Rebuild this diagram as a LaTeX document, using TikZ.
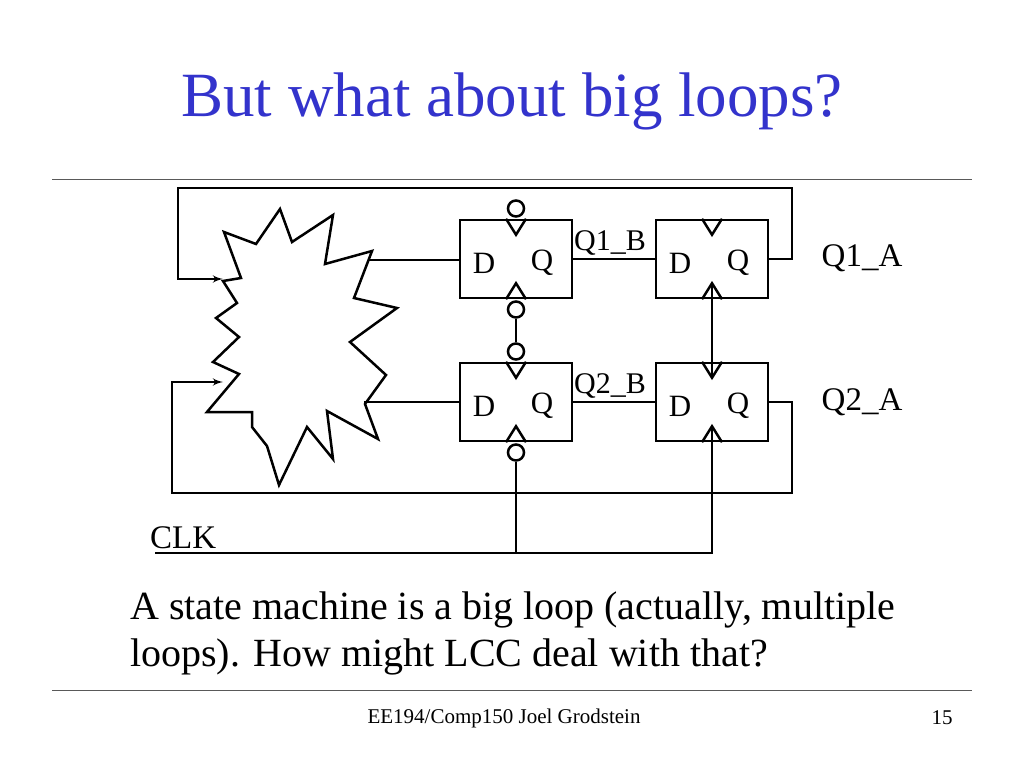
\documentclass[tikz,border=0pt]{standalone}
\usepackage{fontspec}
\setmainfont{Liberation Serif}
\usetikzlibrary{arrows, positioning}
\definecolor{titleblue}{RGB}{51,51,204}

\begin{document}
\begin{tikzpicture}[
    x=1pt, y=-1pt,
    ff/.style={rectangle, draw, line width=2.5pt, minimum width=112pt, minimum height=78pt, inner sep=0pt},
    pin/.style={font=\fontsize{31}{33}\selectfont, inner sep=0pt},
    lab/.style={font=\fontsize{33}{35}\selectfont, inner sep=0pt},
    wire/.style={draw, line width=2.5pt},
    line/.style={draw, line width=2.5pt, -latex'},
    bubble/.style={circle, draw, line width=2.5pt, minimum width=12pt, minimum height=16pt, inner sep=0pt},
    tri/.style={draw, line width=2.5pt}
]
    \useasboundingbox (0,0) rectangle (1024,768);

    % Title and rules
    \node [font=\fontsize{63}{66}\selectfont, text=titleblue] (title) at (512,101) {But what about big loops?};
    \draw [gray!70!black, line width=1pt] (52,179) -- (972,179);
    \draw [gray!70!black, line width=1pt] (52,690) -- (972,690);

    % Flip-flops
    \node [ff] (ff1l) at (516,259) {};
    \node [ff] (ff1r) at (712,259) {};
    \node [ff] (ff2l) at (516,402) {};
    \node [ff] (ff2r) at (712,402) {};
    \foreach \f in {ff1l, ff1r, ff2l, ff2r} {
        \node [pin] at ([xshift=-32pt, yshift=-4pt]\f.center) {D};
        \node [pin] at ([xshift=26pt, yshift=-4pt]\f.center) {Q};
        % clock triangles
        \draw [tri] ([xshift=-10pt]\f.north) -- ([yshift=-16pt]\f.north) -- ([xshift=10pt]\f.north);
        \draw [tri] ([xshift=-10pt]\f.south) -- ([yshift=16pt]\f.south) -- ([xshift=10pt]\f.south);
    }

    % Bubbles
    \node [bubble, above=1pt of ff1l.north] (b1t) {};
    \node [bubble, below=1pt of ff1l.south] (b1b) {};
    \node [bubble, above=1pt of ff2l.north] (b2t) {};
    \node [bubble, below=1pt of ff2l.south] (b2b) {};

    % Logic cloud
    \draw [line width=2.5pt, fill=white] (280,209) -- (292,242) -- (333,215) -- (325,264) -- (372,251)
        -- (354,298) -- (397,308) -- (350,342) -- (386,375) -- (365,404) -- (378,439)
        -- (327,411) -- (333,459) -- (307,427) -- (279,485) -- (267,446) -- (252,427)
        -- (252,412) -- (207,412) -- (239,374) -- (213,362) -- (239,337) -- (216,318)
        -- (237,303) -- (223,281) -- (241,278) -- (224,232) -- (256,244) -- cycle;
    \coordinate (in1) at (223,279);
    \coordinate (in2) at (223,382);
    \coordinate (out1) at (368,260);
    \coordinate (out2) at (364,402);

    % Data paths
    \path [wire] (out1) -- (ff1l.west |- out1);
    \path [wire] (out2) -- (ff2l.west);
    \path [wire] (ff1l.east) -- (ff1r.west);
    \path [wire] (ff2l.east) -- (ff2r.west);
    \node [lab, anchor=south west, font=\fontsize{30}{32}\selectfont] (q1b) at (574,256) {Q1\_B};
    \node [lab, anchor=south west, font=\fontsize{30}{32}\selectfont] (q2b) at (574,399) {Q2\_B};

    % Feedback loops
    \coordinate (c1) at (792,188);
    \coordinate (c2) at (792,493);
    \path [line] (ff1r.east) -| (c1) -| (178,188) |- (in1);
    \path [line] (ff2r.east) -| (c2) -| (172,493) |- (in2);
    \node [lab] (q1a) at (862,258) {Q1\_A};
    \node [lab] (q2a) at (862,402) {Q2\_A};

    % Clock
    \coordinate (clk) at (155,553);
    \coordinate (clkr) at (712,553);
    \path [wire] (clk) -- (clkr) -- ([yshift=16pt]ff2r.south);
    \path [wire] (b2b.south) -- (b2b.south |- clk);
    \path [wire] (b1b.south) -- (b2t.north);
    \path [wire] ([yshift=16pt]ff1r.south) -- ([yshift=-16pt]ff2r.north);
    \node [lab, anchor=south west] (clklab) at (150,549) {CLK};

    % Text
    \node [font=\fontsize{40}{47}\selectfont, anchor=north west, align=left, inner sep=0pt] (body) at (130,592)
        {A state machine is a big loop (actually, multiple\\loops). How might LCC deal with that?};
    \node [font=\fontsize{21}{23}\selectfont] (foot) at (504,718) {EE194/Comp150 Joel Grodstein};
    \node [font=\fontsize{21}{23}\selectfont] (page) at (942,718) {15};
\end{tikzpicture}
\end{document}
